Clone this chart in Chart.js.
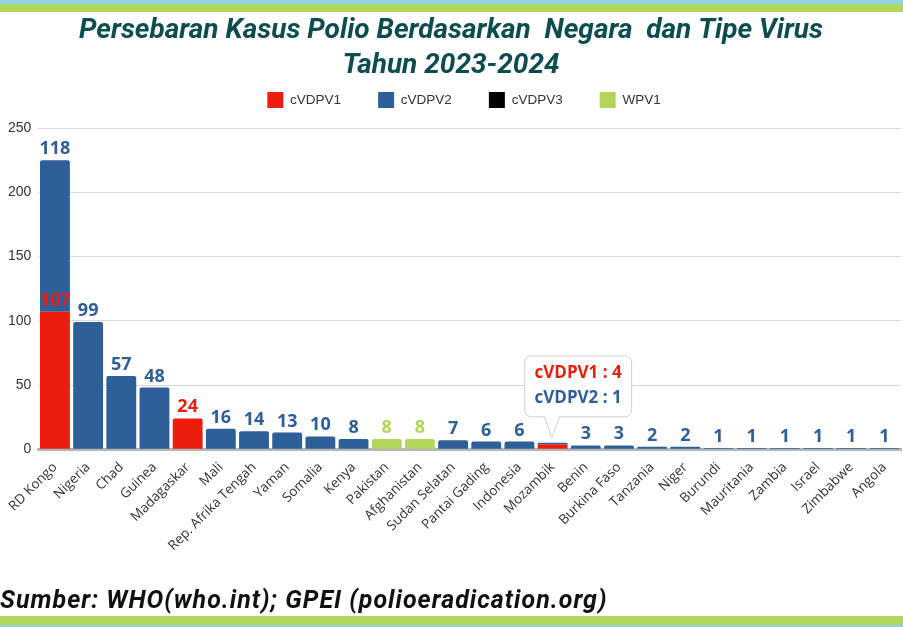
<!DOCTYPE html>
<html>
<head>
<meta charset="utf-8">
<script src="https://cdn.jsdelivr.net/npm/chart.js@4.4.1/dist/chart.umd.min.js"></script>
<style>
	body { margin: 0; background: #fff; }
	#wrap { position: relative; width: 903px; height: 627px; overflow: hidden; }
	.stripe { position: absolute; left: 0; width: 903px; }
	#footer {
		position: absolute; left: 0; top: 585px;
		font: italic 700 25px Roboto, sans-serif; line-height: 30px; letter-spacing: 1px;
		color: #111; white-space: nowrap;
	}
</style>
</head>
<body>
<div id="wrap">
	<div class="stripe" style="top:0;height:4px;background:#8fd3e6"></div>
	<div class="stripe" style="top:4px;height:8px;background:#b2d65c"></div>
	<canvas id="chart" width="903" height="627"></canvas>
	<div id="footer">Sumber: WHO(who.int); GPEI (polioeradication.org)</div>
	<div class="stripe" style="top:616px;height:9px;background:#b2d65c"></div>
	<div class="stripe" style="top:625px;height:2px;background:#8fd3e6"></div>
</div>
<script>
const countries = ['RD Kongo', 'Nigeria', 'Chad', 'Guinea', 'Madagaskar', 'Mali', 'Rep. Afrika Tengah', 'Yaman', 'Somalia', 'Kenya',
	'Pakistan', 'Afghanistan', 'Sudan Selatan', 'Pantai Gading', 'Indonesia', 'Mozambik', 'Benin', 'Burkina Faso', 'Tanzania', 'Niger',
	'Burundi', 'Mauritania', 'Zambia', 'Israel', 'Zimbabwe', 'Angola'];
const cvdpv1 = [107, 0, 0, 0, 24, 0, 0, 0, 0, 0, 0, 0, 0, 0, 0, 4, 0, 0, 0, 0, 0, 0, 0, 0, 0, 0];
const cvdpv2 = [118, 99, 57, 48, 0, 16, 14, 13, 10, 8, 0, 0, 7, 6, 6, 1, 3, 3, 2, 2, 1, 1, 1, 1, 1, 1];
const cvdpv3 = [0, 0, 0, 0, 0, 0, 0, 0, 0, 0, 0, 0, 0, 0, 0, 0, 0, 0, 0, 0, 0, 0, 0, 0, 0, 0];
const wpv1 = [0, 0, 0, 0, 0, 0, 0, 0, 0, 0, 8, 8, 0, 0, 0, 0, 0, 0, 0, 0, 0, 0, 0, 0, 0, 0];
const yTicks = [0, 50, 100, 150, 200, 250];
const calloutCountries = ['Mozambik'];

const RED = '#ec1c0e', BLUE = '#2e5f98', BLACK = '#000000', GREEN = '#b1d65b';

// value labels above each segment, with a callout box for mixed small stacks
const valueLabels = {
	id: 'valueLabels',
	afterDatasetsDraw(chart) {
		const ctx = chart.ctx;
		ctx.save();
		ctx.font = 'bold 18px "Open Sans", sans-serif';
		ctx.textAlign = 'center';
		ctx.textBaseline = 'alphabetic';
		chart.data.labels.forEach((name, i) => {
			const parts = [];
			chart.data.datasets.forEach((ds, d) => {
				const v = ds.data[i];
				if (!v) return;
				parts.push({ds, v, el: chart.getDatasetMeta(d).data[i]});
			});
			if (!parts.length) return;
			if (calloutCountries.includes(name)) {
				const cx = parts[0].el.x;
				const top = Math.min(...parts.map(p => p.el.y));
				const left = cx - 28, w = 107, bottom = top - 26, h = 61;
				ctx.beginPath();
				ctx.roundRect(left, bottom - h, w, h, 7);
				ctx.fillStyle = '#fff';
				ctx.fill();
				ctx.strokeStyle = '#cfcfcf';
				ctx.lineWidth = 1;
				ctx.stroke();
				ctx.beginPath();
				ctx.moveTo(cx - 8, bottom);
				ctx.lineTo(cx - 1, top - 5);
				ctx.lineTo(cx + 7, bottom);
				ctx.fillStyle = '#fff';
				ctx.fill();
				ctx.stroke();
				ctx.fillRect(cx - 7, bottom - 1.5, 13, 2);
				ctx.font = 'bold 17px "Open Sans", sans-serif';
				parts.forEach((p, k) => {
					ctx.fillStyle = p.ds.backgroundColor;
					ctx.fillText(`${p.ds.label} : ${p.v}`, left + w / 2, bottom - h + 22 + k * 25);
				});
				ctx.font = 'bold 18px "Open Sans", sans-serif';
				return;
			}
			parts.forEach(p => {
				ctx.fillStyle = p.ds.backgroundColor;
				ctx.fillText(p.v, p.el.x, p.el.y - 6);
			});
		});
		ctx.restore();
	}
};

// a bit more room under the legend, and the legend sits a little right of centre
const legendGap = {
	id: 'legendGap',
	beforeInit(chart) {
		const fit = chart.legend.fit;
		chart.legend.fit = function() {
			fit.call(this);
			this.height += 10;
		};
	},
	afterLayout(chart) {
		chart.legend.left += 13;
		chart.legend.right += 13;
	}
};

const barStyle = {barPercentage: 0.9, categoryPercentage: 1, borderRadius: 2, borderSkipped: 'bottom'};

new Chart(document.getElementById('chart'), {
	type: 'bar',
	data: {
		labels: countries,
		datasets: [
			{label: 'cVDPV1', data: cvdpv1, backgroundColor: RED, ...barStyle},
			{label: 'cVDPV2', data: cvdpv2, backgroundColor: BLUE, ...barStyle},
			{label: 'cVDPV3', data: cvdpv3, backgroundColor: BLACK, ...barStyle},
			{label: 'WPV1', data: wpv1, backgroundColor: GREEN, ...barStyle}
		]
	},
	plugins: [valueLabels, legendGap],
	options: {
		responsive: false,
		animation: false,
		layout: {padding: {top: 10, left: 1, right: 2, bottom: 71}},
		plugins: {
			title: {
				display: true,
				text: ['Persebaran Kasus Polio Berdasarkan  Negara  dan Tipe Virus', 'Tahun 2023-2024'],
				color: '#0d4d50',
				font: {family: 'Roboto', size: 28, weight: 'bold', style: 'italic', lineHeight: 35 / 28},
				padding: {top: 3, bottom: -28}
			},
			legend: {
				position: 'top',
				labels: {
					boxWidth: 16,
					boxHeight: 16,
					padding: 37,
					color: '#333',
					font: {family: '"Liberation Sans", Arial', size: 13.5}
				}
			},
			tooltip: {enabled: false}
		},
		scales: {
			x: {
				stacked: true,
				grid: {display: false},
				border: {color: '#b5b5b5', width: 3},
				ticks: {
					maxRotation: 45,
					minRotation: 45,
					padding: 2,
					color: '#333',
					font: {family: '"Open Sans"', size: 13.5}
				}
			},
			y: {
				stacked: true,
				min: yTicks[0],
				max: yTicks[yTicks.length - 1],
				afterBuildTicks: axis => { axis.ticks = yTicks.map(v => ({value: v})); },
				grid: {color: '#d6d6d6', drawTicks: false},
				border: {display: false},
				ticks: {
					padding: 7,
					color: '#333',
					font: {family: '"Liberation Sans", Arial', size: 14}
				}
			}
		}
	}
});
</script>
</body>
</html>
